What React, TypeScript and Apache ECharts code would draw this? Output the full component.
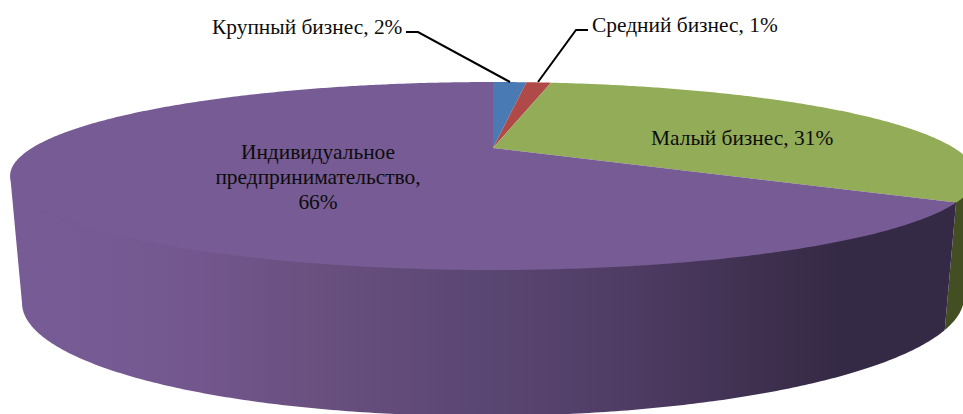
import React, { useEffect, useRef } from "react";
import * as echarts from "echarts";

const categories = ["Крупный бизнес", "Средний бизнес", "Малый бизнес", "Индивидуальное\nпредпринимательство"];
const values = [1.5, 1.1, 31.4, 66];
const separators = [", ", ", ", ", ", ",\n"];
const topColors = ["#4a7ab3", "#b04a48", "#92ac58", "#775b94"];
const wallColors = ["#2d4a6e", "#6e2e2d", "#434f22", "#775b94"];

const W = 963;
const H = 414;
const K = 0.298;
const TOP = { cx: 493, cy: 148, a: 461, b: 85.66, skew: 0 };
const WALL_TOP = { ...TOP, cy: 146.5 }; // tucked under the top face so no seam shows
const BOTTOM = { cx: 493, cy: 265.4, a: 449.6, b: 105.7, skew: 0.006 };
const LIMIT = (Math.acos(-K) * 180) / Math.PI; // angle of the silhouette, measured from the far point
const labelAnchors: [number, number, string][] = [
  [212, 27, "left"],
  [592, 24.5, "left"],
  [651, 138, "left"],
  [318, 177, "center"],
];
const leaders: ([number, number][] | null)[] = [
  [[406, 32], [418, 32], [510, 82]],
  [[588, 30], [576, 30], [538, 82]],
  null,
  null,
];

const total = values.reduce((s, v) => s + v, 0);
const startOf = (i: number) => (values.slice(0, i).reduce((s, v) => s + v, 0) / total) * 360;

function project(p: typeof TOP, deg: number): [number, number] {
  const t = (deg * Math.PI) / 180;
  const u = Math.sin(t);
  const v = Math.cos(t);
  const w = 1 + K * v;
  const x = (p.a * u) / w;
  return [p.cx + x, p.cy - (p.b * v) / w - p.skew * x];
}

function arc(p: typeof TOP, from: number, to: number): [number, number][] {
  const n = Math.max(2, Math.ceil(Math.abs(to - from) / 0.5));
  const out: [number, number][] = [];
  for (let i = 0; i <= n; i++) out.push(project(p, from + ((to - from) * i) / n));
  return out;
}

function wallFill(i: number) {
  if (i !== 3) return wallColors[i];
  return new echarts.graphic.LinearGradient(
    11, 0, 963, 0,
    [
      { offset: 0, color: "#775b94" },
      { offset: 0.1, color: "#765a93" },
      { offset: 0.2, color: "#72568d" },
      { offset: 0.32, color: "#69507f" },
      { offset: 0.5, color: "#5a4672" },
      { offset: 0.65, color: "#4f3c64" },
      { offset: 0.78, color: "#3f3050" },
      { offset: 0.87, color: "#352a45" },
      { offset: 1, color: "#352a45" },
    ],
    true
  );
}

export default function App() {
  const ref = useRef<HTMLDivElement>(null);
  useEffect(() => {
    document.body.style.margin = "0";
    document.body.style.overflow = "hidden";
    const chart = echarts.init(ref.current!, undefined, { renderer: "svg" });
    chart.setOption({
      animation: false,
      backgroundColor: "#ffffff",
      series: [
        {
          type: "custom",
          coordinateSystem: "none",
          data: values,
          silent: true,
          renderItem: (params: any) => {
            const i = params.dataIndex;
            const from = Math.max(startOf(i), LIMIT);
            const to = Math.min(startOf(i + 1), 360 - LIMIT);
            if (to <= from) return { type: "group", children: [] };
            const pts = [...arc(WALL_TOP, from, to), ...arc(BOTTOM, to, from)];
            return { type: "polygon", shape: { points: pts }, style: { fill: wallFill(i) } };
          },
        },
        {
          type: "custom",
          coordinateSystem: "none",
          data: values,
          silent: true,
          renderItem: (params: any) => {
            const i = params.dataIndex;
            const pts = [[TOP.cx, TOP.cy], ...arc(TOP, startOf(i), startOf(i + 1))];
            return { type: "polygon", shape: { points: pts }, style: { fill: topColors[i] } };
          },
        },
        {
          type: "custom",
          coordinateSystem: "none",
          data: values,
          silent: true,
          renderItem: (params: any) => {
            const i = params.dataIndex;
            const [x, y, align] = labelAnchors[i];
            const children: any[] = [
              {
                type: "text",
                style: {
                  x,
                  y,
                  text: `${categories[i]}${separators[i]}${Math.round(values[i])}%`,
                  font: '21.4px "Liberation Serif"',
                  fill: "#0c0c0c",
                  align,
                  verticalAlign: "middle",
                  lineHeight: 25,
                },
              },
            ];
            const path = leaders[i];
            if (path) {
              children.push({
                type: "polyline",
                shape: { points: path },
                style: { fill: "none", stroke: "#000000", lineWidth: 2 },
              });
            }
            return { type: "group", children };
          },
        },
      ],
    });
    return () => chart.dispose();
  }, []);
  return <div ref={ref} style={{ width: W, height: H }} />;
}
